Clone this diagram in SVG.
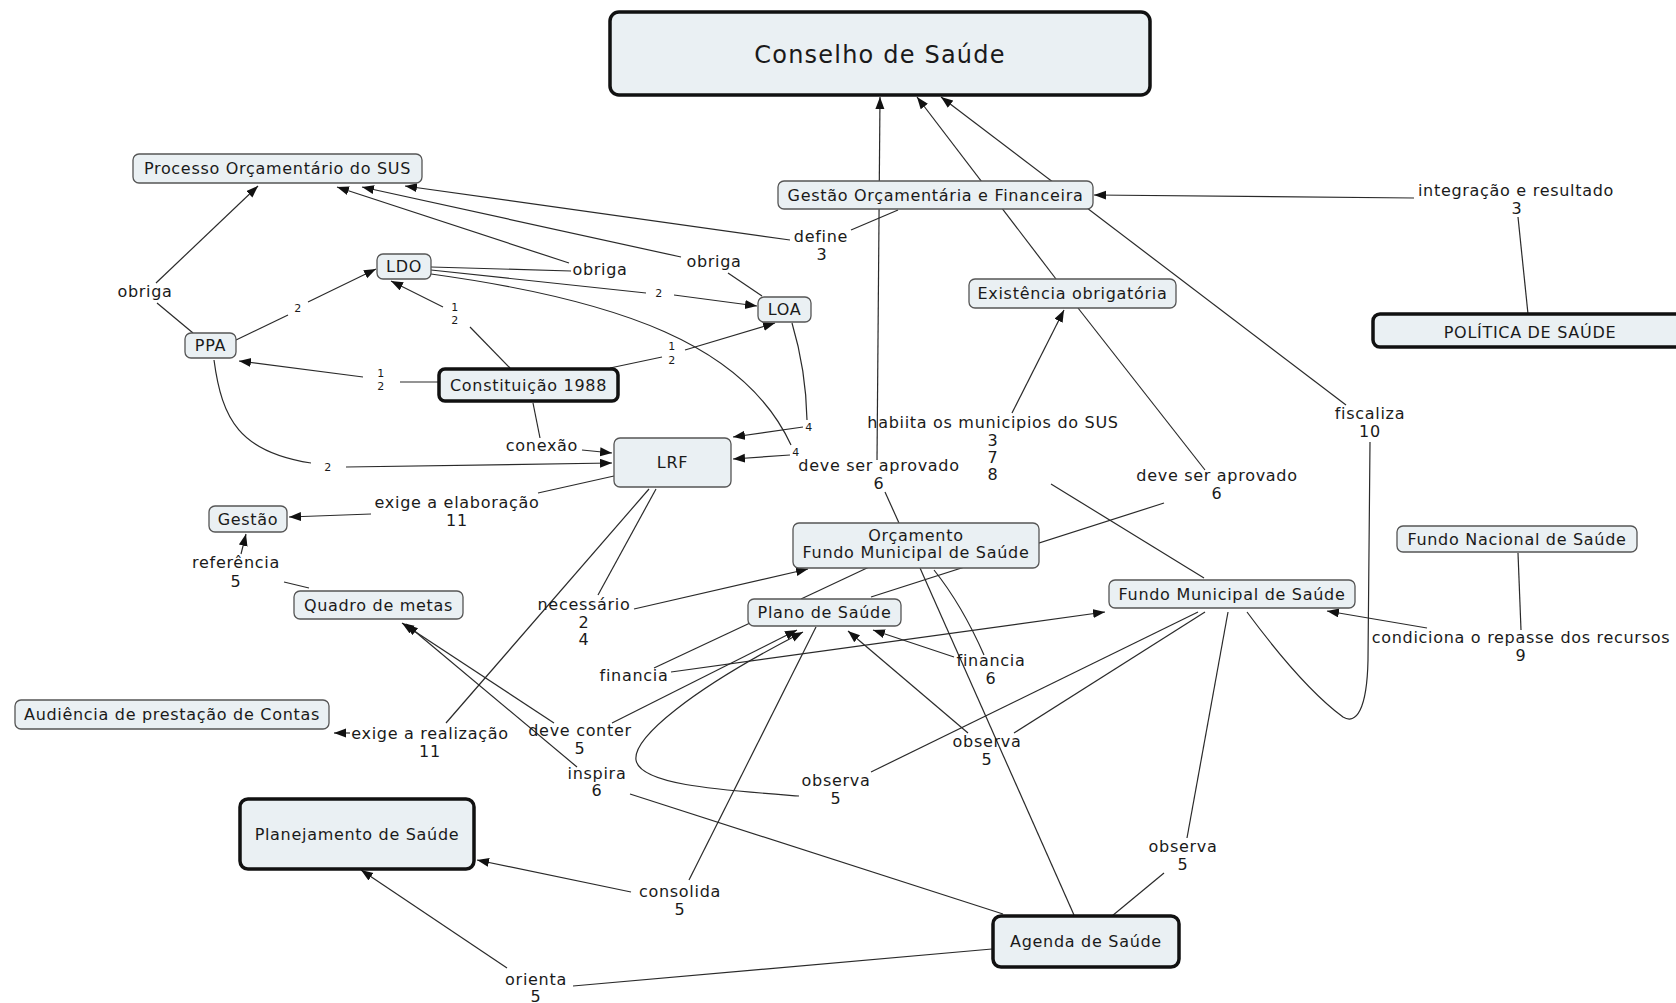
<svg xmlns="http://www.w3.org/2000/svg" width="1676" height="1003" viewBox="0 0 1676 1003">
<defs>
<marker id="ah" markerUnits="userSpaceOnUse" markerWidth="13" markerHeight="10" refX="12" refY="4.5" orient="auto">
<path d="M0,0 L12,4.5 L0,9 z" fill="#111"/>
</marker>
<style>
.bg{fill:#ffffff}
.n{fill:#eaf0f3;stroke:#555;stroke-width:1.3}
.nb{fill:#eaf0f3;stroke:#111;stroke-width:3.5}
.t{font-family:"DejaVu Sans","Liberation Sans",sans-serif;font-size:16px;letter-spacing:0.7px;fill:#1a1a1a;text-anchor:middle}
.tb{font-family:"DejaVu Sans","Liberation Sans",sans-serif;font-size:24px;letter-spacing:1.2px;fill:#1a1a1a;text-anchor:middle}
.ts{font-family:"DejaVu Sans","Liberation Sans",sans-serif;font-size:11px;letter-spacing:0.3px;fill:#1a1a1a;text-anchor:middle}
.c{fill:none;stroke:#2a2a2a;stroke-width:1.2}
.a{fill:none;stroke:#2a2a2a;stroke-width:1.2;marker-end:url(#ah)}
</style>
</defs>
<rect class="bg" x="0" y="0" width="1676" height="1003"/>

<g id="connectors">
<path class="c" d="M193,333 L157,303"/>
<path class="a" d="M156,283 L258,186"/>
<path class="c" d="M431,267 L571,271"/>
<path class="a" d="M569,263 L337,187"/>
<path class="c" d="M762,296 L728,273"/>
<path class="a" d="M681,257 L362,187"/>
<path class="c" d="M898,210 L851,230"/>
<path class="a" d="M790,240 L405,186"/>
<path class="a" d="M1414,198 L1094,195"/>
<path class="c" d="M1528,314 L1518,217"/>
<path class="c" d="M236,340 L288,315"/>
<path class="a" d="M308,302 L376,269"/>
<path class="c" d="M510,368 L470,327"/>
<path class="a" d="M443,307 L391,281"/>
<path class="c" d="M439,382 L400,382"/>
<path class="a" d="M363,377 L239,361"/>
<path class="c" d="M610,368 L662,357"/>
<path class="a" d="M685,350 L775,323"/>
<path class="c" d="M431,270 L646,293"/>
<path class="a" d="M674,295 L757,306"/>
<path class="c" d="M792,323 Q806,370 807,420"/>
<path class="a" d="M803,427 L733,437"/>
<path class="c" d="M431,274 C620,300 745,345 791,445"/>
<path class="a" d="M790,455 L733,459"/>
<path class="c" d="M533,403 L540,438"/>
<path class="a" d="M582,450 L612,453"/>
<path class="c" d="M214,360 C222,420 240,452 311,463"/>
<path class="a" d="M346,467 L612,463"/>
<path class="c" d="M614,476 L538,493"/>
<path class="a" d="M371,514 L289,517"/>
<path class="c" d="M309,588 L284,582"/>
<path class="a" d="M241,554 L246,534"/>
<path class="c" d="M656,489 L598,595"/>
<path class="a" d="M634,609 L808,569"/>
<path class="c" d="M649,489 L446,723"/>
<path class="a" d="M350,733 L334,733"/>
<path class="a" d="M612,723 L797,630"/>
<path class="a" d="M554,723 L402,623"/>
<path class="a" d="M577,767 L406,624"/>
<path class="c" d="M1003,914 L630,794"/>
<path class="c" d="M750,623 L654,668"/>
<path class="a" d="M671,672 L1105,612"/>
<path class="c" d="M934,570 Q962,605 984,655"/>
<path class="a" d="M954,657 L873,630"/>
<path class="c" d="M1205,612 L1014,733"/>
<path class="a" d="M968,733 L848,631"/>
<path class="c" d="M1198,612 L871,772"/>
<path class="a" d="M799,796 C720,790 640,785 636,760 C633,738 690,690 803,632"/>
<path class="c" d="M1228,612 L1187,838"/>
<path class="c" d="M1164,873 L1112,916"/>
<path class="c" d="M816,627 L689,880"/>
<path class="a" d="M631,892 L477,860"/>
<path class="c" d="M992,949 L573,986"/>
<path class="a" d="M507,968 L361,870"/>
<path class="c" d="M920,568 L1074,915"/>
<path class="c" d="M801,599 L916,545"/>
<path class="c" d="M871,597 L1164,503"/>
<path class="c" d="M1078,308 L1205,470"/>
<path class="c" d="M899,523 L885,492"/>
<path class="a" d="M877,460 L880,97"/>
<path class="c" d="M1204,578 L1051,484"/>
<path class="a" d="M1012,413 L1064,310"/>
<path class="a" d="M1056,279 L917,97"/>
<path class="a" d="M1346,405 L941,97"/>
<path class="c" d="M1370,442 L1368,660 C1367,710 1356,725 1343,717 C1320,700 1290,670 1247,612"/>
<path class="c" d="M1518,553 L1521,630"/>
<path class="a" d="M1427,628 L1327,611"/>
</g>

<g id="labels">
<text class="t" x="145" y="297">obriga</text>
<text class="t" x="600" y="275">obriga</text>
<text class="t" x="714" y="267">obriga</text>
<text class="t" x="821" y="242">define</text>
<text class="t" x="822" y="260">3</text>
<text class="t" x="1516" y="196">integração e resultado</text>
<text class="t" x="1517" y="213.5">3</text>
<text class="t" x="993" y="428">habiita os municipios do SUS</text>
<text class="t" x="993" y="446">3</text>
<text class="t" x="993" y="463">7</text>
<text class="t" x="993" y="480">8</text>
<text class="t" x="879" y="471">deve ser aprovado</text>
<text class="t" x="879" y="489">6</text>
<text class="t" x="1217" y="481">deve ser aprovado</text>
<text class="t" x="1217" y="499">6</text>
<text class="t" x="1370" y="419">fiscaliza</text>
<text class="t" x="1370" y="437">10</text>
<text class="t" x="542" y="451">conexão</text>
<text class="t" x="457" y="508">exige a elaboração</text>
<text class="t" x="457" y="526">11</text>
<text class="t" x="236" y="568">referência</text>
<text class="t" x="236" y="587">5</text>
<text class="t" x="584" y="610">necessário</text>
<text class="t" x="584" y="628">2</text>
<text class="t" x="584" y="645">4</text>
<text class="t" x="634" y="681">financia</text>
<text class="t" x="991" y="666">financia</text>
<text class="t" x="991" y="684">6</text>
<text class="t" x="1521" y="643">condiciona o repasse dos recursos</text>
<text class="t" x="1521" y="661">9</text>
<text class="t" x="430" y="739">exige a realização</text>
<text class="t" x="430" y="757">11</text>
<text class="t" x="580" y="736">deve conter</text>
<text class="t" x="580" y="754">5</text>
<text class="t" x="597" y="779">inspira</text>
<text class="t" x="597" y="796">6</text>
<text class="t" x="836" y="786">observa</text>
<text class="t" x="836" y="804">5</text>
<text class="t" x="987" y="747">observa</text>
<text class="t" x="987" y="765">5</text>
<text class="t" x="1183" y="852">observa</text>
<text class="t" x="1183" y="870">5</text>
<text class="t" x="680" y="897">consolida</text>
<text class="t" x="680" y="915">5</text>
<text class="t" x="536" y="985">orienta</text>
<text class="t" x="536" y="1002">5</text>
<text class="ts" x="298" y="312">2</text>
<text class="ts" x="455" y="311">1</text>
<text class="ts" x="455" y="324">2</text>
<text class="ts" x="381" y="377">1</text>
<text class="ts" x="381" y="390">2</text>
<text class="ts" x="672" y="350">1</text>
<text class="ts" x="672" y="364">2</text>
<text class="ts" x="659" y="297">2</text>
<text class="ts" x="809" y="431">4</text>
<text class="ts" x="796" y="456">4</text>
<text class="ts" x="328" y="471">2</text>
</g>

<g id="n-conselho"><rect class="nb" x="610" y="12" width="540" height="83" rx="9"/><text class="tb" x="880" y="63">Conselho de Saúde</text></g>
<g id="n-processo"><rect class="n" x="133" y="154" width="289" height="29" rx="6"/><text class="t" x="277.5" y="174">Processo Orçamentário do SUS</text></g>
<g id="n-ldo"><rect class="n" x="377" y="254" width="54" height="25" rx="6"/><text class="t" x="404" y="272">LDO</text></g>
<g id="n-ppa"><rect class="n" x="185" y="333" width="51" height="25" rx="6"/><text class="t" x="210.5" y="351">PPA</text></g>
<g id="n-constituicao"><rect class="nb" x="439" y="369" width="179" height="32" rx="6"/><text class="t" x="528.5" y="391">Constituição 1988</text></g>
<g id="n-loa"><rect class="n" x="758" y="297" width="53" height="25" rx="6"/><text class="t" x="784.5" y="315">LOA</text></g>
<g id="n-lrf"><rect class="n" x="614" y="438" width="117" height="49" rx="6"/><text class="t" x="672.5" y="468">LRF</text></g>
<g id="n-gestao-orc"><rect class="n" x="778" y="181" width="315" height="28" rx="6"/><text class="t" x="935.5" y="200.5">Gestão Orçamentária e Financeira</text></g>
<g id="n-existencia"><rect class="n" x="969" y="279" width="207" height="29" rx="6"/><text class="t" x="1072.5" y="299">Existência obrigatória</text></g>
<g id="n-politica"><rect class="nb" x="1373" y="314" width="330" height="33" rx="7"/><text class="t" x="1530" y="337.5">POLÍTICA DE SAÚDE</text></g>
<g id="n-fns"><rect class="n" x="1397" y="526" width="240" height="26" rx="6"/><text class="t" x="1517" y="544.5">Fundo Nacional de Saúde</text></g>
<g id="n-fms"><rect class="n" x="1109" y="580" width="246" height="28" rx="6"/><text class="t" x="1232" y="599.5">Fundo Municipal de Saúde</text></g>
<g id="n-orcamento"><rect class="n" x="793" y="523" width="246" height="45" rx="6"/><text class="t" x="916" y="540.5">Orçamento</text><text class="t" x="916" y="557.5">Fundo Municipal de Saúde</text></g>
<g id="n-plano"><rect class="n" x="748" y="599" width="153" height="27" rx="6"/><text class="t" x="824.5" y="618">Plano de Saúde</text></g>
<g id="n-gestao"><rect class="n" x="209" y="506" width="78" height="26" rx="6"/><text class="t" x="248" y="524.5">Gestão</text></g>
<g id="n-quadro"><rect class="n" x="294" y="591" width="169" height="28" rx="6"/><text class="t" x="378.5" y="610.5">Quadro de metas</text></g>
<g id="n-audiencia"><rect class="n" x="15" y="700" width="314" height="29" rx="6"/><text class="t" x="172" y="720">Audiência de prestação de Contas</text></g>
<g id="n-planejamento"><rect class="nb" x="240" y="799" width="234" height="70" rx="8"/><text class="t" x="357" y="839.5">Planejamento de Saúde</text></g>
<g id="n-agenda"><rect class="nb" x="993" y="916" width="186" height="51" rx="8"/><text class="t" x="1086" y="947">Agenda de Saúde</text></g>
</svg>
